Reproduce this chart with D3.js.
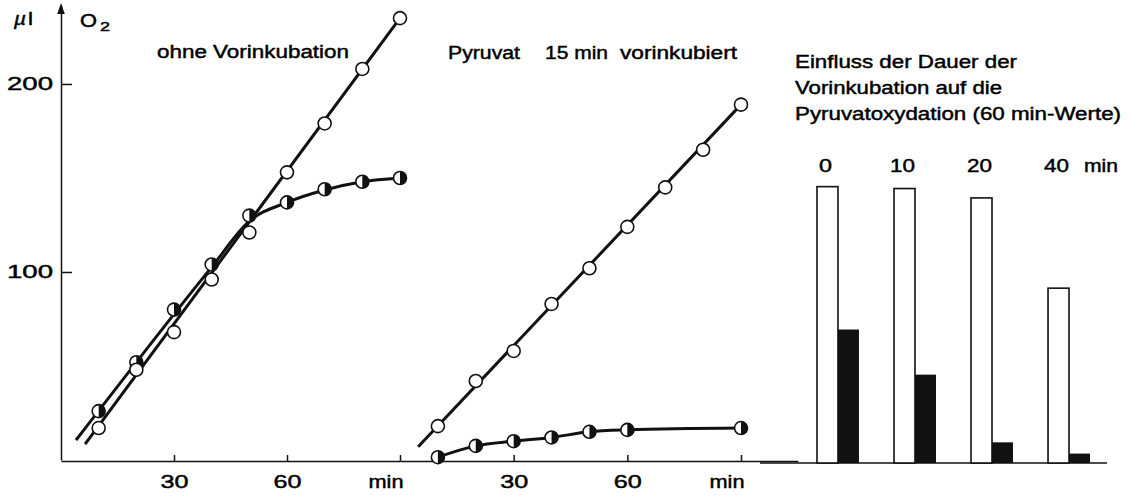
<!DOCTYPE html>
<html>
<head>
<meta charset="utf-8">
<script src="https://cdn.jsdelivr.net/npm/d3@7"></script>
<style>
  body { margin: 0; background: #fff; }
  svg { display: block; font-family: "Liberation Sans", Arial, sans-serif; }
  svg text { fill: #000; stroke: #000; stroke-width: 0.45; }
  .axis path, .axis line { stroke: #111; stroke-width: 1.5; }
  .axis text { font-size: 18px; font-family: "Liberation Sans", Arial, sans-serif; }
</style>
</head>
<body>
<div id="chart"></div>
<script>
// ---------- DATA ----------
const times = [10, 20, 30, 40, 50, 60, 70, 80, 90];
// ohne Vorinkubation
const open1 = [17, 48, 68, 96, 121, 153, 179, 208, 235];
const half1 = [26, 52, 80, 104, 130, 137, 144, 148, 150];
// drawn curves (fit lines): [min, µl]
const open1Fit = [[6.4, 8.5], [90, 235]];
const half1Fit = [[4, 10.6], [40, 102.6], [50, 127], [60, 137], [70, 143.6], [80, 148], [90, 150]];
// Pyruvat 15 min vorinkubiert
const open2 = [18, 42, 58, 83, 102, 124, 145, 165, 189];
const half2Times = [10, 20, 30, 40, 50, 60, 90];
const half2 = [1.5, 7.5, 10, 12, 15, 16, 17];
const open2Fit = [[4.8, 7], [90, 189]];
// bars: Dauer der Vorinkubation (min), 60 min-Werte
const preTimes = ["0", "10", "20", "40"];
const barOpen = [147, 146, 141, 93];
const barFilled = [71, 47, 11, 5];
const xTicks = [30, 60, 90];
const yTicks = [100, 200];

const width = 1130;
const height = 496;

const svg = d3.select("#chart").append("svg")
  .attr("width", width)
  .attr("height", height);

// ---------- SCALES ----------
const x1 = d3.scaleLinear().domain([0, 90]).range([61, 400]);
const x2 = d3.scaleLinear().domain([0, 105]).range([400, 400 + 105 * 341 / 90]);
const y = d3.scaleLinear().domain([0, 242]).range([460, 5]);
const yb = d3.scaleLinear().domain([0, 100]).range([463, 275]);
const xb = d3.scaleBand().domain(preTimes).range([817, 1090]).paddingInner(0.455).paddingOuter(0);
const xbInner = d3.scaleBand().domain(["open", "filled"]).range([0, xb.bandwidth()]);

const tickFmt = (d) => (d === 90 ? "min" : d);

function styleTicks(g) {
  g.selectAll(".tick text")
    .attr("textLength", (d) => (d === 90 ? 35 : 28))
    .attr("lengthAdjust", "spacingAndGlyphs")
    .filter((d) => d === 90)
    .attr("text-anchor", "end")
    .attr("x", 3);
}

// x axis, panel 1
svg.append("g").classed("axis", true)
  .attr("transform", "translate(0, 461)")
  .call(d3.axisBottom(x1).tickValues(xTicks).tickFormat(tickFmt)
    .tickSizeInner(-6).tickSizeOuter(0).tickPadding(14))
  .call(styleTicks);

// x axis, panel 2
svg.append("g").classed("axis", true)
  .attr("transform", "translate(0, 461)")
  .call(d3.axisBottom(x2).tickValues(xTicks).tickFormat(tickFmt)
    .tickSizeInner(-6).tickSizeOuter(0).tickPadding(14))
  .call(styleTicks);

// y axis
const yAxis = svg.append("g").classed("axis", true)
  .attr("transform", "translate(61, 0)")
  .call(d3.axisLeft(y).tickValues(yTicks).tickSizeInner(-11).tickSizeOuter(0).tickPadding(8));
yAxis.selectAll(".tick text")
  .attr("textLength", 46)
  .attr("lengthAdjust", "spacingAndGlyphs");
svg.append("path")
  .attr("d", `M61,${y(242) - 2} L57.2,${y(242) + 9} L64.8,${y(242) + 9} Z`)
  .attr("fill", "#111");

// ---------- LABELS ----------
function label(txt, x, yy, len, size) {
  return svg.append("text")
    .attr("x", x).attr("y", yy)
    .attr("font-size", size || 18)
    .attr("textLength", len)
    .attr("lengthAdjust", "spacingAndGlyphs")
    .text(txt);
}
label("µ", 14, 25, 12).attr("font-style", "italic");
label("l", 28, 25, 5);
label("O", 80, 27, 17);
label("2", 100, 31, 10, 13);

label("ohne Vorinkubation", 157, 58, 192);
label("Pyruvat", 448, 59, 72);
label("15 min", 545, 59, 63);
label("vorinkubiert", 620, 59, 117);
label("Einfluss der Dauer der", 795, 68, 222);
label("Vorinkubation auf die", 795, 94, 207);
label("Pyruvatoxydation (60 min-Werte)", 795, 120, 326);

// ---------- LINES ----------
const lineG = svg.append("g")
  .attr("fill", "none")
  .attr("stroke", "#111")
  .attr("stroke-width", 3);

const line1 = d3.line().x((d) => x1(d[0])).y((d) => y(d[1])).curve(d3.curveMonotoneX);
const line2 = d3.line().x((d) => x2(d[0])).y((d) => y(d[1])).curve(d3.curveMonotoneX);

lineG.append("path").attr("d", line1(open1Fit));
lineG.append("path").attr("d", line1(half1Fit));
lineG.append("path").attr("d", line2(open2Fit));
lineG.append("path").attr("d", line2(half2Times.map((t, i) => [t, half2[i]])));

// ---------- MARKERS ----------
const r = 6.5;
function openMarkers(xs, vals, xScale) {
  svg.append("g").selectAll("circle")
    .data(vals)
    .enter().append("circle")
    .attr("cx", (d, i) => xScale(xs[i]))
    .attr("cy", (d) => y(d))
    .attr("r", r)
    .attr("fill", "#fff")
    .attr("stroke", "#111")
    .attr("stroke-width", 1.6);
}
function halfMarkers(xs, vals, xScale) {
  const g = svg.append("g").selectAll("g")
    .data(vals)
    .enter().append("g")
    .attr("transform", (d, i) => `translate(${xScale(xs[i])}, ${y(d)})`);
  g.append("circle")
    .attr("r", r)
    .attr("fill", "#fff")
    .attr("stroke", "#111")
    .attr("stroke-width", 1.6);
  g.append("path")
    .attr("d", `M0,${-r} A${r},${r} 0 0 1 0,${r} Z`)
    .attr("fill", "#111");
}
halfMarkers(times, half1, x1);
openMarkers(times, open1, x1);
openMarkers(times, open2, x2);
halfMarkers(half2Times, half2, x2);

// ---------- BARS ----------
svg.append("line")
  .attr("x1", 760).attr("x2", 1107)
  .attr("y1", yb(0)).attr("y2", yb(0))
  .attr("stroke", "#111").attr("stroke-width", 1.5);

const barG = svg.append("g").selectAll("g")
  .data(preTimes)
  .enter().append("g")
  .attr("transform", (d) => `translate(${xb(d)}, 0)`);

barG.append("rect")
  .attr("x", xbInner("open"))
  .attr("y", (d, i) => yb(barOpen[i]))
  .attr("width", xbInner.bandwidth())
  .attr("height", (d, i) => yb(0) - yb(barOpen[i]))
  .attr("fill", "#fff")
  .attr("stroke", "#111")
  .attr("stroke-width", 1.6);

barG.append("rect")
  .attr("x", xbInner("filled"))
  .attr("y", (d, i) => yb(barFilled[i]))
  .attr("width", xbInner.bandwidth())
  .attr("height", (d, i) => yb(0) - yb(barFilled[i]))
  .attr("fill", "#111");

barG.append("text")
  .attr("x", xbInner("open") + xbInner.bandwidth() / 2 - 2)
  .attr("y", 172)
  .attr("text-anchor", "middle")
  .attr("font-size", 18)
  .attr("textLength", (d) => (d.length > 1 ? 25 : 13))
  .attr("lengthAdjust", "spacingAndGlyphs")
  .text((d) => d);

label("min", xb("40") + 36, 172, 34);
</script>
</body>
</html>
